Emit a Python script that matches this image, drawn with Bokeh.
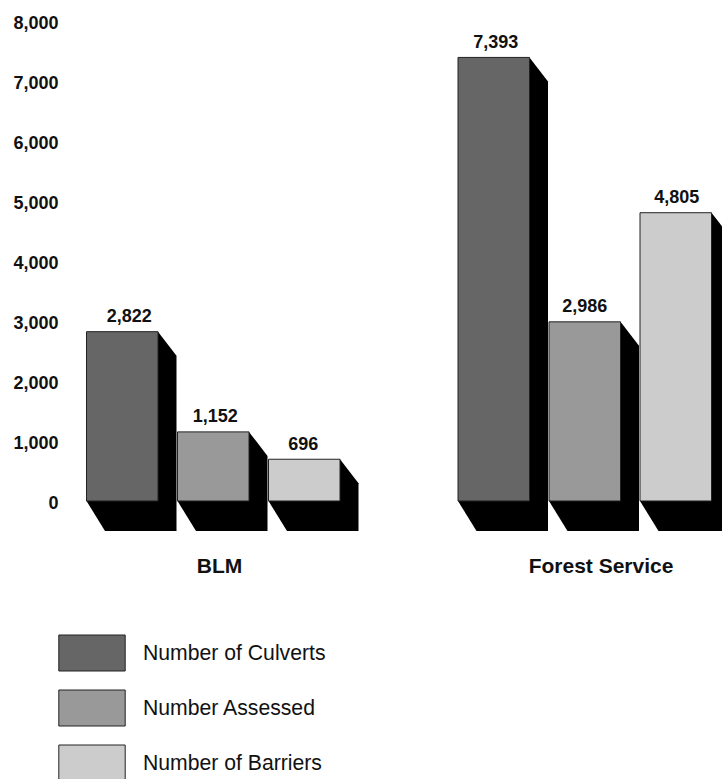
from bokeh.core.properties import value
from bokeh.embed import file_html
from bokeh.models import ColumnDataSource, FixedTicker, Legend, LegendItem, LinearAxis, NumeralTickFormatter, Range1d
from bokeh.plotting import figure
from bokeh.resources import INLINE

groups = ["BLM", "Forest Service"]
series = ["Number of Culverts", "Number Assessed", "Number of Barriers"]
culverts = [2822, 7393]
assessed = [1152, 2986]
barriers = [696, 4805]
y_ticks = [0, 1000, 2000, 3000, 4000, 5000, 6000, 7000, 8000]

colors = ["#666666", "#999999", "#cccccc"]
group_left = [86.0, 457.5]
group_centers = [219.0, 600.5]
bar_step = 91.0
bar_w = 71.5
depth_x = 18.5
depth_top = 400
depth_bottom = 500
label_dx = [[7, 2], [2, 0], [-1, 1]]

y_bottom, y_top = -4642, 8342
p = figure(width=722, height=779, output_backend="svg", toolbar_location=None,
           x_range=Range1d(58, 722), y_range=Range1d(y_bottom, y_top),
           min_border_left=58, min_border_right=0, min_border_top=0, min_border_bottom=0,
           x_axis_location=None, y_axis_location=None,
           outline_line_color=None, background_fill_color="white")
p.grid.visible = False

# tick labels sit slightly below their gridline position in the reference
p.extra_y_ranges = {"labels": Range1d(y_bottom + 26, y_top + 26)}
yaxis = LinearAxis(y_range_name="labels", ticker=FixedTicker(ticks=y_ticks),
                   formatter=NumeralTickFormatter(format="0,0"),
                   axis_line_color=None, major_tick_line_color=None, minor_tick_line_color=None,
                   major_tick_out=0, major_tick_in=0, major_label_standoff=0,
                   major_label_text_font="Liberation Sans", major_label_text_font_style="bold",
                   major_label_text_font_size="18px", major_label_text_color="#111111")
p.add_layout(yaxis, "left")

items = []
for s, (name, vals, col) in enumerate(zip(series, [culverts, assessed, barriers], colors)):
    x0 = [g + s * bar_step for g in group_left]
    xs = [[a + bar_w, a + bar_w + depth_x, a + bar_w + depth_x, a + depth_x, a] for a in x0]
    ys = [[v, v - depth_top, -depth_bottom, -depth_bottom, 0] for v in vals]
    p.patches(xs, ys, fill_color="black", line_color=None)
for s, (name, vals, col) in enumerate(zip(series, [culverts, assessed, barriers], colors)):
    x0 = [g + s * bar_step for g in group_left]
    x1 = [x + bar_w for x in x0]
    src = ColumnDataSource(dict(x0=x0, x1=x1, top=vals,
                                xc=[(a + b) / 2 for a, b in zip(x0, x1)],
                                txt=[f"{v:,}" for v in vals], dx=label_dx[s]))
    r = p.quad(left="x0", right="x1", bottom=0, top="top", source=src,
               fill_color=col, line_color="#222222", line_width=1)
    items.append(LegendItem(label=name, renderers=[r]))
    p.text(x="xc", y="top", text="txt", source=src, x_offset="dx", y_offset=-16,
           text_align="center", text_baseline="alphabetic",
           text_font=value("Liberation Sans"), text_font_style="bold",
           text_font_size="18px", text_color="#111111")

p.text(x=group_centers, y=[0, 0], text=groups, y_offset=65,
       text_align="center", text_baseline="alphabetic",
       text_font=value("Liberation Sans"), text_font_style="bold",
       text_font_size="21px", text_color="#111111")

legend = Legend(items=items, location=(-8, -6), orientation="vertical",
                glyph_width=83, glyph_height=45, label_standoff=10, spacing=10,
                margin=0, padding=0, border_line_color=None, background_fill_alpha=0,
                label_text_font="Liberation Sans", label_text_font_size="21.2px",
                label_text_color="#111111", label_height=45)
p.add_layout(legend)

open("out.html", "w").write(file_html(p, INLINE))
